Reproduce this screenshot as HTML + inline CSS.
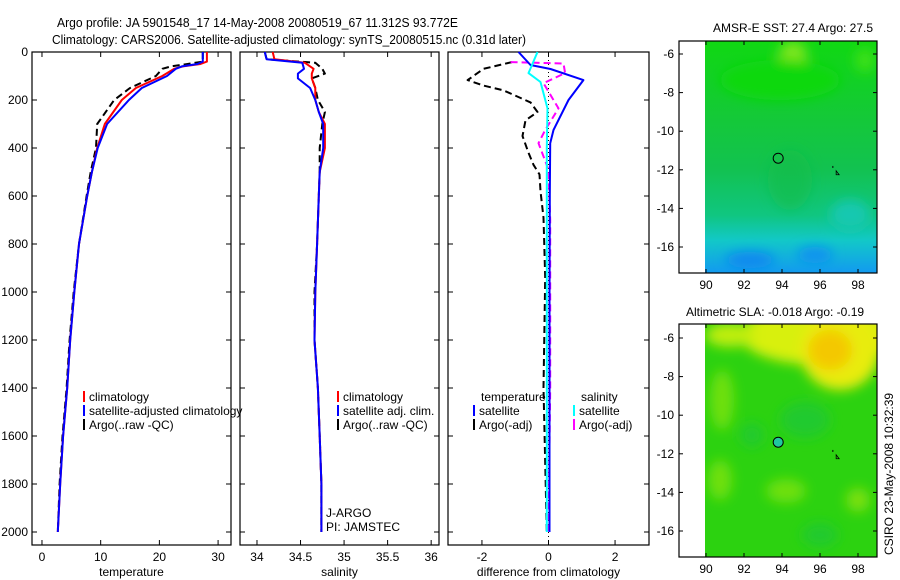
<!DOCTYPE html>
<html><head><meta charset="utf-8"><style>
html,body{margin:0;padding:0;background:#fff;}
svg{display:block;font-family:"Liberation Sans",sans-serif;}
</style></head><body>
<svg id="fig" width="900" height="580" viewBox="0 0 900 580" xmlns="http://www.w3.org/2000/svg">
<defs>
<filter id="blur6" x="-50%" y="-50%" width="200%" height="200%"><feGaussianBlur stdDeviation="6"/></filter>
<linearGradient id="sstGrad" x1="0" y1="0" x2="0" y2="1">
<stop offset="0" stop-color="#10d812"/><stop offset="0.35" stop-color="#14c83a"/><stop offset="0.55" stop-color="#12c250"/>
<stop offset="0.75" stop-color="#10c680"/><stop offset="0.86" stop-color="#12c8c8"/><stop offset="1" stop-color="#129af0"/>
</linearGradient>
<clipPath id="clipMap1"><rect x="705" y="41" width="172" height="232"/></clipPath>
<clipPath id="clipMap2"><rect x="705" y="324" width="172" height="233"/></clipPath>
</defs>
<text x="57" y="27" font-size="13" textLength="401" lengthAdjust="spacingAndGlyphs">Argo profile: JA 5901548_17 14-May-2008 20080519_67 11.312S 93.772E</text>
<text x="52" y="44" font-size="13" textLength="474" lengthAdjust="spacingAndGlyphs">Climatology: CARS2006. Satellite-adjusted climatology: synTS_20080515.nc (0.31d later)</text>

<g id="maps">
<text x="793" y="32" font-size="12" text-anchor="middle">AMSR-E SST: 27.4 Argo: 27.5</text>
<g clip-path="url(#clipMap1)">
<rect x="705" y="41" width="172" height="232" fill="url(#sstGrad)"/>
<g filter="url(#blur6)">
<ellipse cx="793" cy="55" rx="14" ry="14" fill="#7ee61c"/>
<ellipse cx="865" cy="60" rx="10" ry="12" fill="#3ee014"/>
<ellipse cx="780" cy="80" rx="60" ry="20" fill="#10d80e"/>
<ellipse cx="790" cy="180" rx="22" ry="30" fill="#16bc48" opacity="0.6"/>
<ellipse cx="750" cy="260" rx="25" ry="8" fill="#0e86f0"/>
<ellipse cx="815" cy="255" rx="18" ry="8" fill="#0e90f0"/>
<ellipse cx="850" cy="215" rx="20" ry="15" fill="#12c8b0"/>
</g>
</g>
<text x="775" y="316" font-size="12" text-anchor="middle">Altimetric SLA: -0.018 Argo: -0.19</text>
<g clip-path="url(#clipMap2)">
<rect x="705" y="324" width="172" height="233" fill="#2cd210"/>
<g filter="url(#blur6)">
<ellipse cx="820" cy="335" rx="80" ry="30" fill="#d8f008"/>
<ellipse cx="840" cy="350" rx="40" ry="40" fill="#e8ec08"/>
<ellipse cx="830" cy="350" rx="22" ry="20" fill="#f4c800"/>
<ellipse cx="730" cy="335" rx="25" ry="12" fill="#c0ee08"/>
<ellipse cx="722" cy="400" rx="12" ry="30" fill="#6ee010"/>
<ellipse cx="805" cy="420" rx="25" ry="18" fill="#1ec63a" opacity="0.7"/>
<ellipse cx="752" cy="435" rx="12" ry="12" fill="#1ec63a" opacity="0.7"/>
<ellipse cx="820" cy="535" rx="18" ry="12" fill="#1ec63a" opacity="0.7"/>
<ellipse cx="786" cy="491" rx="20" ry="12" fill="#6ee010"/>
<ellipse cx="858" cy="500" rx="12" ry="12" fill="#7ae010"/>
<ellipse cx="720" cy="480" rx="12" ry="20" fill="#70e010"/>
</g>
</g>
</g>
<text font-size="12" transform="translate(893,555) rotate(-90)">CSIRO 23-May-2008 10:32:39</text>
<g id="plots"></g>
</svg>
<script>
// ---------- data ----------
const depthTicks = [0,200,400,600,800,1000,1200,1400,1600,1800,2000];
const tempTicks = [0,10,20,30];
const salTicks = [34,34.5,35,35.5,36];
const salTickLabels = ["34","34.5","35","35.5","36"];
const diffTicks = [-2,0,2];
const lonTicks = [90,92,94,96,98];
const latTicks = [-6,-8,-10,-12,-14,-16];

const tDepth = [0,40,50,60,70,100,150,200,300,400,500,600,800,1000,1200,1400,1600,1800,2000];
const tempClim = [28.1,28.1,27,24,22.5,20.5,16,13.6,10.7,9.4,8.5,7.7,6.3,5.5,4.8,4.3,3.6,3.1,2.7];
const tempSat  = [27.4,27.4,26.5,23.8,22.8,21.3,17,14.8,11.1,9.5,8.5,7.7,6.3,5.5,4.8,4.3,3.6,3.1,2.7];
const tempArgo = [27.4,27.4,24.8,22,20.5,19.4,15,12.3,9.4,9.2,8.3,7.6,6.3,5.4,4.7,4.2,3.5,3.0,2.7];

const sDepth = [0,30,45,70,90,110,150,200,250,300,400,500,600,800,1000,1200,1400,1600,1800,2000];
const salClim = [34.18,34.2,34.55,34.65,34.63,34.63,34.67,34.67,34.71,34.78,34.78,34.72,34.71,34.69,34.67,34.66,34.70,34.72,34.74,34.74];
const salSat  = [34.09,34.11,34.52,34.54,34.47,34.47,34.61,34.67,34.71,34.76,34.76,34.72,34.71,34.69,34.67,34.66,34.70,34.72,34.74,34.74];
const salArgo = [34.09,34.11,34.67,34.75,34.78,34.63,34.67,34.70,34.78,34.75,34.72,34.72,34.71,34.69,34.66,34.66,34.70,34.72,34.74,34.74];

const dDepthT = [0,54,71,117,200,325,380,600,1000,2000];
const diffTempSat = [-0.9,-0.54,0.06,1.05,0.6,0.15,0.05,0.04,0.03,0.03];
const dDepthS = [0,88,125,235,400,1000,2000];
const diffSalSat = [-0.33,-0.6,-0.24,-0.03,-0.05,-0.05,-0.05];
const dDepthA = [42,70,117,140,160,210,250,285,350,420,470,510,580,690,940,1400,2000];
const diffTempArgo = [-1.1,-1.95,-2.43,-1.95,-1.35,-0.54,-0.33,-0.69,-0.78,-0.6,-0.45,-0.27,-0.24,-0.15,-0.1,-0.15,-0.05];
const dDepthM = [42,48,88,130,235,325,380,490,700,1400,2000];
const diffSalArgo = [-1.14,0.45,0.5,-0.15,0.3,-0.1,-0.3,0,0.05,0.05,0.0];

const floatLon = [93.8];
const floatLat = [-11.4];

// ---------- drawing ----------
const NS = "http://www.w3.org/2000/svg";
const root = document.getElementById('plots');
function mk(tag, attrs, parent){ const e=document.createElementNS(NS,tag); for(const k in attrs) e.setAttribute(k,attrs[k]); (parent||root).appendChild(e); return e; }
const yTop = 52, yBot = 545;
function yD(d){ return yTop + d*0.24; }

const panels = [
 {x0:32,x1:231,v0:-1.7,v1:32.2,ticks:tempTicks,labels:tempTicks.map(String),xlabel:"temperature",ylabels:true,name:"temperature-panel"},
 {x0:240,x1:439,v0:33.805,v1:36.09,ticks:salTicks,labels:salTickLabels,xlabel:"salinity",ylabels:false,name:"salinity-panel"},
 {x0:448,x1:649,v0:-3.02,v1:3.02,ticks:diffTicks,labels:diffTicks.map(String),xlabel:"difference from climatology",ylabels:false,name:"difference-panel"}
];
panels.forEach(p=>{ p.sx = v => p.x0 + (v-p.v0)/(p.v1-p.v0)*(p.x1-p.x0); });

panels.forEach(p=>{
  const g = mk('g',{});
  
  
  const r = mk('rect',{x:p.x0,y:yTop,width:p.x1-p.x0,height:yBot-yTop,fill:'none',stroke:'#000','stroke-width':1.2},g);
  
  
  p.ticks.forEach((t,i)=>{
    const x = p.sx(t);
    mk('line',{x1:x,x2:x,y1:yBot,y2:yBot-5,stroke:'#000'},g);
    mk('line',{x1:x,x2:x,y1:yTop,y2:yTop+5,stroke:'#000'},g);
    const tl = mk('text',{x:x,y:yBot+16,'font-size':12,'text-anchor':'middle'},g);
    
    
    tl.textContent = p.labels[i];
  });
  depthTicks.forEach(d=>{
    const y=yD(d);
    mk('line',{x1:p.x0,x2:p.x0+5,y1:y,y2:y,stroke:'#000'},g);
    mk('line',{x1:p.x1,x2:p.x1-5,y1:y,y2:y,stroke:'#000'},g);
    if(p.ylabels){
      const yl = mk('text',{x:p.x0-4,y:y+4,'font-size':12,'text-anchor':'end'},g);
      
      
      yl.textContent = d;
    }
  });
  const xt = mk('text',{x:(p.x0+p.x1)/2,y:576,'font-size':12,'text-anchor':'middle'},g);
  
  
  xt.textContent = p.xlabel;
});

function line(p, vals, depths, color, dash, name, w){
  const pts = vals.map((v,i)=> p.sx(v).toFixed(1)+','+yD(depths[i]).toFixed(1)).join(' ');
  const l = mk('polyline',{points:pts,fill:'none',stroke:color,'stroke-width':w||2,'stroke-dasharray':dash||'none','stroke-linejoin':'round'});
  
  
}
const zl = mk('line',{x1:panels[2].sx(0),x2:panels[2].sx(0),y1:yTop,y2:yBot,stroke:'#000','stroke-dasharray':'1,3','stroke-width':1});



line(panels[0], tempArgo, tDepth, '#000', '7,4', 'temp-argo-line');
line(panels[0], tempClim, tDepth, '#f00', null, 'temp-climatology-line');
line(panels[0], tempSat, tDepth, '#0000ff', null, 'temp-satellite-line');
line(panels[1], salArgo, sDepth, '#000', '7,4', 'sal-argo-line');
line(panels[1], salClim, sDepth, '#f00', null, 'sal-climatology-line');
line(panels[1], salSat, sDepth, '#0000ff', null, 'sal-satellite-line');
line(panels[2], diffTempArgo, dDepthA, '#000', '7,4', 'diff-temp-argo-line');
line(panels[2], diffSalArgo, dDepthM, '#ff00ff', '7,4', 'diff-sal-argo-line');
line(panels[2], diffTempSat, dDepthT, '#0000ff', null, 'diff-temp-satellite-line');
line(panels[2], diffSalSat, dDepthS, '#00ffff', null, 'diff-sal-satellite-line');

function legend(x, y, color, text, name){
  const g = mk('g',{});
  
  
  if(color) mk('rect',{x:x,y:y-10,width:2,height:11,fill:color},g);
  const t = mk('text',{x:x+6,y:y,'font-size':12},g);
  t.textContent = text;
}
legend(83,401,'#f00','climatology','legend-climatology');
legend(83,415,'#0000ff','satellite-adjusted climatology','legend-satellite');
legend(83,429,'#000','Argo(..raw -QC)','legend-argo');
legend(337,401,'#f00','climatology','legend-sal-climatology');
legend(337,415,'#0000ff','satellite adj. clim.','legend-sal-satellite');
legend(337,429,'#000','Argo(..raw -QC)','legend-sal-argo');
legend(475,401,null,'temperature','legend-temperature-heading');
legend(473,415,'#0000ff','satellite','legend-diff-temp-satellite');
legend(473,429,'#000','Argo(-adj)','legend-diff-temp-argo');
legend(575,401,null,'salinity','legend-salinity-heading');
legend(573,415,'#00ffff','satellite','legend-diff-sal-satellite');
legend(573,429,'#ff00ff','Argo(-adj)','legend-diff-sal-argo');
legend(320,517,null,'J-ARGO','float-agency');
legend(320,531,null,'PI: JAMSTEC','float-pi');

const maps = [
 {top:41,bot:273,name:'sst-map',fill:'none'},
 {top:324,bot:557,name:'sla-map',fill:'#20c8a0'}
];
const mx0=679, mx1=877;
function lonX(l){ return 706 + (l-90)*19; }
maps.forEach((m,mi)=>{
  const latY = la => (mi===0 ? 54 : 338) + (-6-la)*19.3;
  const g = mk('g',{});
  
  
  mk('rect',{x:mx0,y:m.top,width:mx1-mx0,height:m.bot-m.top,fill:'none',stroke:'#000','stroke-width':1.2},g);
  lonTicks.forEach(l=>{
    const x=lonX(l);
    mk('line',{x1:x,x2:x,y1:m.bot,y2:m.bot-4,stroke:'#000'},g);
    mk('line',{x1:x,x2:x,y1:m.top,y2:m.top+4,stroke:'#000'},g);
    const t=mk('text',{x:x,y:m.bot+16,'font-size':12,'text-anchor':'middle'},g);
    
    
    t.textContent=l;
  });
  latTicks.forEach(la=>{
    const y=latY(la);
    mk('line',{x1:mx0,x2:mx0+4,y1:y,y2:y,stroke:'#000'},g);
    mk('line',{x1:mx1,x2:mx1-4,y1:y,y2:y,stroke:'#000'},g);
    const t=mk('text',{x:mx0-5,y:y+4,'font-size':12,'text-anchor':'end'},g);
    
    
    t.textContent=la;
  });
  floatLon.forEach((lo,i)=>{
    const c = mk('circle',{cx:lonX(lo),cy:latY(floatLat[i]),r:5,fill:m.fill,stroke:'#000','stroke-width':1},g);
    
    
  });
  mk('rect',{x:lonX(96.65),y:latY(-11.8),width:1,height:2,fill:'#000'},g);
  mk('path',{d:`M${lonX(96.85)},${latY(-12.05)} l0,4 l3,0 z`,fill:'none',stroke:'#000','stroke-width':0.8},g);
});
</script>
</body></html>
